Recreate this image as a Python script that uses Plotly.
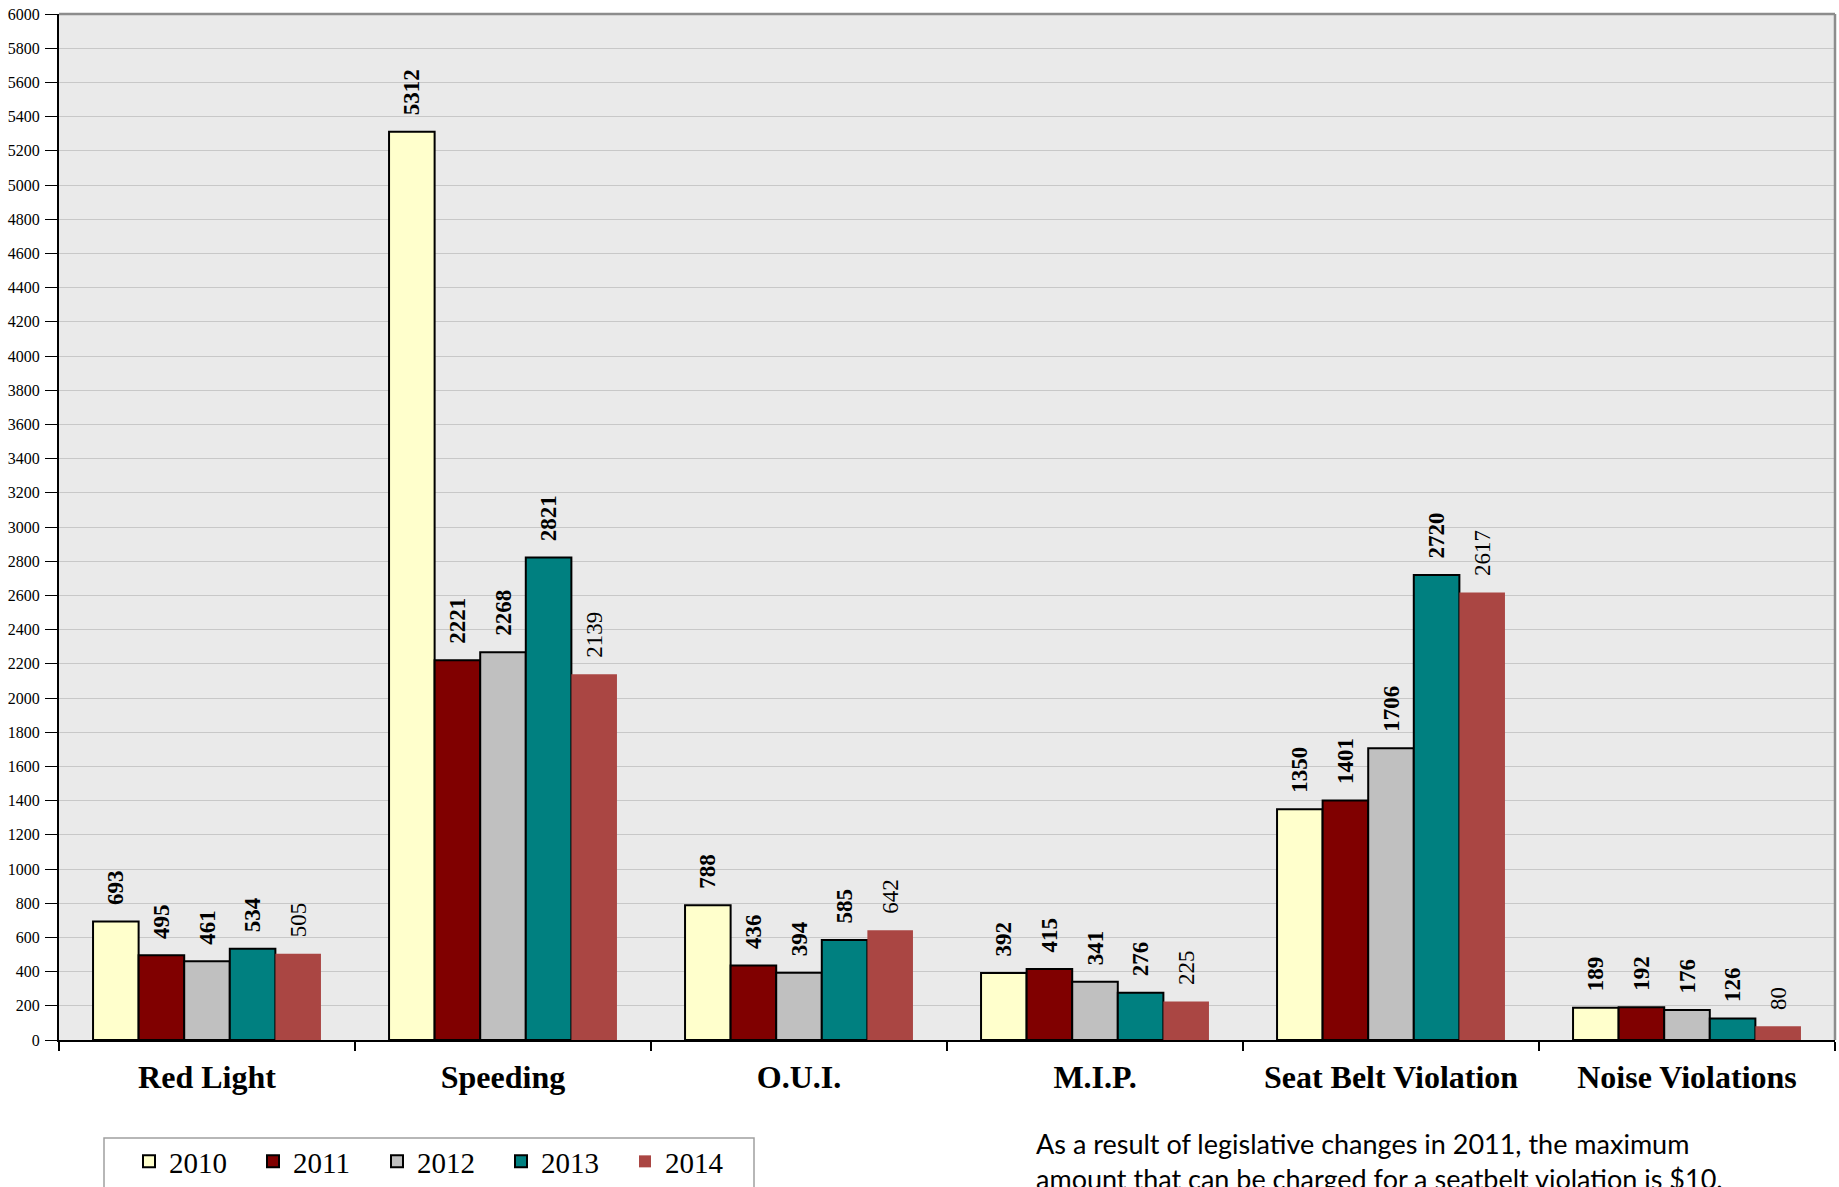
import plotly.graph_objects as go

categories = ["Red Light", "Speeding", "O.U.I.", "M.I.P.", "Seat Belt Violation", "Noise Violations"]
years = ["2010", "2011", "2012", "2013", "2014"]
v2010 = [693, 5312, 788, 392, 1350, 189]
v2011 = [495, 2221, 436, 415, 1401, 192]
v2012 = [461, 2268, 394, 341, 1706, 176]
v2013 = [534, 2821, 585, 276, 2720, 126]
v2014 = [505, 2139, 642, 225, 2617, 80]
series = [v2010, v2011, v2012, v2013, v2014]
colors = ["#FFFFCC", "#800000", "#C0C0C0", "#008080", "#AA4643"]
outlined = [True, True, True, True, False]
bold_labels = [True, True, True, True, False]
note = "As a result of legislative changes in 2011, the maximum<br>amount that can be charged for a seatbelt violation is $10."

W, H = 1839, 1187
ml, mr, mt, mb = 59, 4, 14, 147
pw, ph = W - ml - mr, H - mt - mb

def px_x(X):
    return (X - ml) / pw

def px_y(Y):
    return (H - mb - Y) / ph

SERIF = "Liberation Serif"
PAD = "\u00a0\u00a0\u200a"

fig = go.Figure()
for name, vals, col, ol, bl in zip(years, series, colors, outlined, bold_labels):
    fig.add_trace(go.Bar(
        name=name,
        x=categories,
        y=vals,
        marker=dict(color=col, line=dict(color="#000000" if ol else col, width=2 if ol else 0)),
        text=[PAD + str(v) for v in vals],
        textposition="outside",
        textangle=-90,
        constraintext="none",
        cliponaxis=False,
        textfont=dict(family=SERIF, size=23, color="#000000", weight="bold" if bl else "normal"),
    ))

fig.update_layout(
    width=W, height=H,
    margin=dict(l=ml, r=mr, t=mt, b=mb, autoexpand=False),
    paper_bgcolor="#FFFFFF",
    plot_bgcolor="#EAEAEA",
    barmode="group",
    bargap=0.23,
    bargroupgap=0,
    font=dict(family=SERIF, color="#000000"),
    legend=dict(
        orientation="h",
        x=px_x(129), y=px_y(1136), xanchor="left", yanchor="top",
        bgcolor="rgba(0,0,0,0)", borderwidth=0,
        font=dict(family=SERIF, size=29, color="#000000"),
        entrywidth=79, entrywidthmode="pixels",
        traceorder="normal",
    ),
    annotations=[dict(
        text=note, xref="paper", yref="paper",
        x=px_x(1034), y=px_y(1125), xanchor="left", yanchor="top",
        align="left", showarrow=False,
        font=dict(family="Lato", size=27, color="#000000"),
    )],
    shapes=[
        dict(type="line", xref="paper", yref="paper", x0=0, x1=1, y0=1, y1=1,
             line=dict(color="#8C8C8C", width=2.5)),
        dict(type="line", xref="paper", yref="paper", x0=1, x1=1, y0=0, y1=1,
             line=dict(color="#8C8C8C", width=2.5)),
        dict(type="rect", xref="paper", yref="paper",
             x0=px_x(104), x1=px_x(754), y0=px_y(1138), y1=px_y(1230),
             line=dict(color="#A0A0A0", width=1.5), fillcolor="rgba(0,0,0,0)"),
    ],
)

fig.update_xaxes(
    type="category",
    tickson="boundaries",
    ticks="outside", ticklen=9, tickwidth=1.5, tickcolor="#000000",
    showline=True, linecolor="#000000", linewidth=2,
    showgrid=False,
    tickfont=dict(family=SERIF, size=32, color="#000000", weight="bold"),
    ticklabelstandoff=8,
)
fig.update_yaxes(
    range=[0, 6000], dtick=200,
    ticks="outside", ticklen=12, tickwidth=1, tickcolor="#000000",
    showline=True, linecolor="#000000", linewidth=2,
    showgrid=True, gridcolor="#C8C8C8", gridwidth=1,
    zeroline=False,
    tickfont=dict(family=SERIF, size=16, color="#000000"),
    ticklabelstandoff=2,
)

fig.write_html(
    "out.html",
    config={"displayModeBar": False},
    post_script="document.body.style.margin='0';document.body.style.overflow='hidden';",
)
